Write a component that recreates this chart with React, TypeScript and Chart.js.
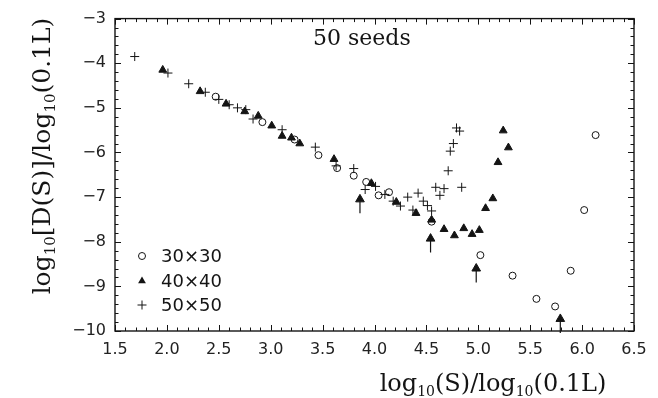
import React, { useEffect, useRef } from 'react';
import { Chart, registerables } from 'chart.js';

Chart.register(...registerables);

// ---------- data ----------
const TITLE = '50 seeds';
const SERIES_NAMES = ['30\u00d730', '40\u00d740', '50\u00d750'];

const X_RANGE = [1.5, 6.5];
const Y_RANGE = [-10, -3];
const X_MAJOR_STEP = 0.5;
const X_MINOR_STEP = 0.1;
const Y_MAJOR_STEP = 1;
const Y_MINOR_STEP = 0.2;

// 30x30 (open circles)
const s30x = [2.47, 2.92, 3.23, 3.46, 3.64, 3.80, 3.92, 4.04, 4.14, 4.55, 5.02, 5.33, 5.56, 5.74, 5.89, 6.02, 6.13];
const s30y = [-4.75, -5.32, -5.71, -6.06, -6.35, -6.52, -6.66, -6.96, -6.89, -7.55, -8.30, -8.76, -9.28, -9.45, -8.65, -7.29, -5.61];

// 40x40 (filled triangles)
const s40x = [1.96, 2.32, 2.57, 2.75, 2.88, 3.01, 3.11, 3.20, 3.28, 3.61, 3.97, 4.21, 4.40, 4.55, 4.67, 4.77, 4.86, 4.94, 5.01, 5.07, 5.14, 5.19, 5.24, 5.29];
const s40y = [-4.15, -4.63, -4.91, -5.08, -5.18, -5.40, -5.63, -5.67, -5.80, -6.15, -6.69, -7.11, -7.36, -7.51, -7.72, -7.86, -7.70, -7.83, -7.74, -7.25, -7.03, -6.22, -5.51, -5.89];

// 40x40 lower limits (triangles with arrows)
const s40limX = [3.86, 4.54, 4.98, 5.79];
const s40limY = [-7.05, -7.93, -8.60, -9.73];

// 50x50 (plus signs)
const s50x = [1.69, 2.01, 2.21, 2.37, 2.50, 2.60, 2.68, 2.76, 2.83, 3.11, 3.43, 3.63, 3.80, 3.91, 4.01, 4.10, 4.18, 4.25, 4.32, 4.37, 4.42, 4.47, 4.51, 4.55, 4.59, 4.63, 4.67, 4.71, 4.73, 4.76, 4.79, 4.82, 4.84];
const s50y = [-3.85, -4.22, -4.46, -4.65, -4.81, -4.93, -5.00, -5.04, -5.25, -5.49, -5.88, -6.30, -6.36, -6.83, -6.76, -6.94, -7.09, -7.20, -7.00, -7.29, -6.91, -7.09, -7.19, -7.31, -6.78, -6.96, -6.81, -6.41, -5.97, -5.80, -5.45, -5.52, -6.78];

// ---------- helpers ----------
const INK = '#141414';
const pts = (xs: number[], ys: number[]) => xs.map((x, i) => ({ x, y: ys[i] }));
const minus = (v: number, d: number) => (v < 0 ? '\u2212' : '') + Math.abs(v).toFixed(d);

type Part = { t: string; sub?: boolean };
const drawParts = (ctx: CanvasRenderingContext2D, parts: Part[], cx: number, by: number, size: number, subSize: number, subDrop: number) => {
  const font = (s: number) => `${s}px "DejaVu Serif"`;
  let total = 0;
  const widths = parts.map(p => {
    ctx.font = font(p.sub ? subSize : size);
    const w = ctx.measureText(p.t).width;
    total += w;
    return w;
  });
  let x = cx - total / 2;
  ctx.textAlign = 'left';
  ctx.textBaseline = 'alphabetic';
  parts.forEach((p, i) => {
    ctx.font = font(p.sub ? subSize : size);
    ctx.fillText(p.t, x, by + (p.sub ? subDrop : 0));
    x += widths[i];
  });
};

const drawMarker = (ctx: CanvasRenderingContext2D, kind: string, x: number, y: number) => {
  ctx.beginPath();
  if (kind === 'circle') {
    ctx.arc(x, y, 3.5, 0, Math.PI * 2);
    ctx.stroke();
  } else if (kind === 'triangle') {
    const r = 4.5;
    ctx.moveTo(x, y - r);
    ctx.lineTo(x + r * 0.866, y + r / 2);
    ctx.lineTo(x - r * 0.866, y + r / 2);
    ctx.closePath();
    ctx.fill();
  } else {
    ctx.moveTo(x - 4.5, y); ctx.lineTo(x + 4.5, y);
    ctx.moveTo(x, y - 4.5); ctx.lineTo(x, y + 4.5);
    ctx.stroke();
  }
};

const decor = {
  id: 'decor',
  afterDatasetsDraw(chart: any) {
    const { ctx, chartArea: a, scales } = chart;
    const xs = scales.x, ys = scales.y;
    ctx.save();
    ctx.strokeStyle = INK;
    ctx.fillStyle = INK;

    // arrow stems for lower limits
    ctx.lineWidth = 1.2;
    ctx.beginPath();
    chart.getDatasetMeta(3).data.forEach((el: any) => {
      ctx.moveTo(el.x, el.y + 2);
      ctx.lineTo(el.x, el.y + 14);
    });
    ctx.stroke();

    // frame
    ctx.lineWidth = 1.4;
    ctx.strokeRect(a.left, a.top, a.right - a.left, a.bottom - a.top);

    // inward ticks on all four sides
    ctx.lineWidth = 1;
    ctx.beginPath();
    const nx = Math.round((X_RANGE[1] - X_RANGE[0]) / X_MINOR_STEP);
    const xEvery = Math.round(X_MAJOR_STEP / X_MINOR_STEP);
    for (let i = 0; i <= nx; i++) {
      const px = Math.round(xs.getPixelForValue(X_RANGE[0] + i * X_MINOR_STEP)) + 0.5;
      const L = i % xEvery === 0 ? 6 : 3.5;
      ctx.moveTo(px, a.bottom); ctx.lineTo(px, a.bottom - L);
      ctx.moveTo(px, a.top); ctx.lineTo(px, a.top + L);
    }
    const ny = Math.round((Y_RANGE[1] - Y_RANGE[0]) / Y_MINOR_STEP);
    const yEvery = Math.round(Y_MAJOR_STEP / Y_MINOR_STEP);
    for (let i = 0; i <= ny; i++) {
      const py = Math.round(ys.getPixelForValue(Y_RANGE[0] + i * Y_MINOR_STEP)) + 0.5;
      const L = i % yEvery === 0 ? 6 : 3.5;
      ctx.moveTo(a.left, py); ctx.lineTo(a.left + L, py);
      ctx.moveTo(a.right, py); ctx.lineTo(a.right - L, py);
    }
    ctx.stroke();

    // in-plot title
    ctx.font = '22px "DejaVu Serif"';
    ctx.textAlign = 'left';
    ctx.textBaseline = 'alphabetic';
    ctx.fillText(TITLE, 313, 45);

    // legend
    const kinds = ['circle', 'triangle', 'cross'];
    const ly = [256, 281, 305];
    ctx.lineWidth = 1;
    SERIES_NAMES.forEach((name, i) => {
      drawMarker(ctx, kinds[i], 142, ly[i]);
      ctx.font = '18px "DejaVu Sans"';
      ctx.textAlign = 'left';
      ctx.textBaseline = 'middle';
      ctx.fillText(name, 161, ly[i] + 1);
    });

    // x-axis title
    drawParts(ctx, [
      { t: 'log' }, { t: '10', sub: true }, { t: '(S)/log' }, { t: '10', sub: true }, { t: '(0.1L)' },
    ], 493, 391, 24, 14, 5);

    // y-axis title (rotated)
    ctx.translate(50, 156);
    ctx.rotate(-Math.PI / 2);
    drawParts(ctx, [
      { t: 'log' }, { t: '10', sub: true }, { t: '[D(S)]/log' }, { t: '10', sub: true }, { t: '(0.1L)' },
    ], 0, 0, 25, 15, 5);

    ctx.restore();
  },
};

export default function App() {
  const ref = useRef<HTMLCanvasElement>(null);
  useEffect(() => {
    document.body.style.margin = '0';
    const tickFont = { family: '"DejaVu Sans"', size: 16 };
    const chart = new Chart(ref.current as HTMLCanvasElement, {
      type: 'scatter',
      data: {
        datasets: [
          { label: SERIES_NAMES[0], data: pts(s30x, s30y), pointStyle: 'circle', pointRadius: 3.5, borderColor: INK, backgroundColor: 'rgba(255,255,255,0)', borderWidth: 1 },
          { label: SERIES_NAMES[1], data: pts(s40x, s40y), pointStyle: 'triangle', pointRadius: 4.5, borderColor: INK, backgroundColor: INK, borderWidth: 1 },
          { label: SERIES_NAMES[2], data: pts(s50x, s50y), pointStyle: 'cross', pointRadius: 4.5, borderColor: INK, backgroundColor: INK, borderWidth: 1 },
          { label: SERIES_NAMES[1] + ' limit', data: pts(s40limX, s40limY), pointStyle: 'triangle', pointRadius: 5, borderColor: INK, backgroundColor: INK, borderWidth: 1 },
        ],
      },
      options: {
        responsive: false,
        animation: false,
        events: [],
        layout: { padding: { top: 14, right: 24, left: 0, bottom: 0 } },
        plugins: { legend: { display: false }, tooltip: { enabled: false }, title: { display: false } },
        scales: {
          x: {
            type: 'linear', min: X_RANGE[0], max: X_RANGE[1],
            grid: { display: false, drawTicks: false },
            border: { display: false },
            ticks: { stepSize: X_MAJOR_STEP, padding: 9, font: tickFont, color: '#222', maxRotation: 0, autoSkip: false, callback: (v: any) => Number(v).toFixed(1) },
            afterFit: (s: any) => { s.height = 67; },
          },
          y: {
            type: 'linear', min: Y_RANGE[0], max: Y_RANGE[1],
            grid: { display: false, drawTicks: false },
            border: { display: false },
            ticks: { stepSize: Y_MAJOR_STEP, padding: 9, font: tickFont, color: '#222', autoSkip: false, callback: (v: any) => minus(Number(v), 0) },
            afterFit: (s: any) => { s.width = 115; },
          },
        },
      },
      plugins: [decor],
    } as any);
    return () => chart.destroy();
  }, []);
  return (
    <div style={{ position: 'relative', width: 658, height: 398, background: '#fff' }}>
      <canvas ref={ref} width={658} height={398} style={{ display: 'block' }} />
    </div>
  );
}
